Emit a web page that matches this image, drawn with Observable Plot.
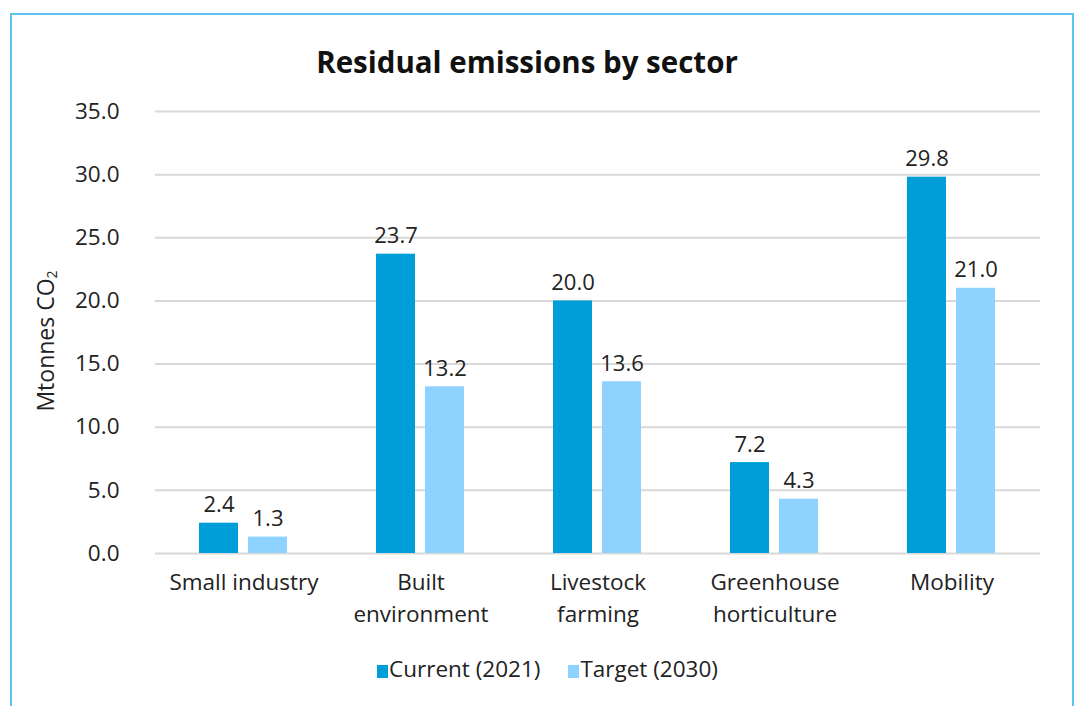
<!DOCTYPE html>
<html>
<head>
<meta charset="utf-8">
<script src="https://cdn.jsdelivr.net/npm/d3@7"></script>
<script src="https://cdn.jsdelivr.net/npm/@observablehq/plot@0.6"></script>
<style>
  html, body { margin: 0; padding: 0; background: #fff; overflow: hidden; }
  body { width: 1085px; height: 706px; position: relative; font-family: "Open Sans", sans-serif; color: #222; }
  #box { position: absolute; left: 10px; top: 13px; width: 1064px; height: 720px; border: 2px solid #5bc4ef; box-sizing: border-box; }
  #title { position: absolute; left: 0; width: 1054px; top: 41px; text-align: center; font-weight: 700; font-size: 29.5px; color: #111; }
  #ylabel { position: absolute; left: 45px; top: 341px; transform: translate(-50%, -50%) rotate(-90deg); font-size: 23px; white-space: nowrap; color: #222; }
  #ylabel sub { font-size: 14px; vertical-align: -3px; }
  #chart { position: absolute; left: 0; top: 90px; }
  #legend { position: absolute; left: 0; width: 1095px; top: 653px; text-align: center; font-size: 22.5px; color: #222; }
  #legend span.item { margin: 0 14px; white-space: nowrap; }
  #legend span.sw { display: inline-block; width: 11px; height: 13px; margin-right: 1px; vertical-align: -1px; }
</style>
</head>
<body>
<div id="box"></div>
<div id="title">Residual emissions by sector</div>
<div id="ylabel">Mtonnes CO<sub>2</sub></div>
<div id="chart"></div>
<div id="legend"></div>
<script>
const sectors = ["Small industry", "Built environment", "Livestock farming", "Greenhouse horticulture", "Mobility"];
const sectorLabels = ["Small industry", "Built\nenvironment", "Livestock\nfarming", "Greenhouse\nhorticulture", "Mobility"];
const series = ["Current (2021)", "Target (2030)"];
const current = [2.4, 23.7, 20.0, 7.2, 29.8];
const target = [1.3, 13.2, 13.6, 4.3, 21.0];
const yTicks = [0, 5, 10, 15, 20, 25, 30, 35];
const colors = ["#009ed9", "#8ed2ff"];

const rows = [];
sectors.forEach((s, i) => {
  rows.push({sector: s, series: series[0], value: current[i]});
  rows.push({sector: s, series: series[1], value: target[i]});
});
const labelOf = new Map(sectors.map((s, i) => [s, sectorLabels[i]]));

const plot = Plot.plot({
  width: 1085,
  height: 540,
  marginLeft: 154,
  marginRight: 44,
  marginTop: 21,
  marginBottom: 77,
  style: {fontFamily: "Open Sans, sans-serif", fontSize: "22px", color: "#222", background: "transparent"},
  fx: {domain: sectors, padding: 0, label: null},
  x: {domain: series, paddingInner: 0.2, paddingOuter: 0.874, axis: null},
  y: {domain: [0, 35], ticks: yTicks, label: null},
  color: {domain: series, range: colors},
  marks: [
    Plot.ruleY(yTicks, {stroke: "#d9d9d9", strokeWidth: 2}),
    Plot.axisY({anchor: "left", ticks: yTicks, tickFormat: d3.format(".1f"), tickSize: 0, tickPadding: 36, line: true, stroke: "#d9d9d9", strokeWidth: 2, label: null, fontSize: 22.5}),
    Plot.axisY({anchor: "right", ticks: [], tickSize: 0, line: true, stroke: "#d9d9d9", strokeWidth: 2, label: null}),
    Plot.axisFx({anchor: "bottom", tickFormat: d => labelOf.get(d), tickSize: 0, tickPadding: 13, lineHeight: 1.45, label: null, fontSize: 22.5}),
    Plot.barY(rows, {fx: "sector", x: "series", y: "value", fill: "series"}),
    Plot.text(rows, {fx: "sector", x: "series", y: "value", text: d => d3.format(".1f")(d.value), lineAnchor: "bottom", dy: -11, fontSize: 22, fill: "#222"})
  ]
});
document.getElementById("chart").appendChild(plot);

const legend = document.getElementById("legend");
series.forEach((s, i) => {
  const item = document.createElement("span");
  item.className = "item";
  const sw = document.createElement("span");
  sw.className = "sw";
  sw.style.background = colors[i];
  item.appendChild(sw);
  item.appendChild(document.createTextNode(s));
  legend.appendChild(item);
});
</script>
</body>
</html>
